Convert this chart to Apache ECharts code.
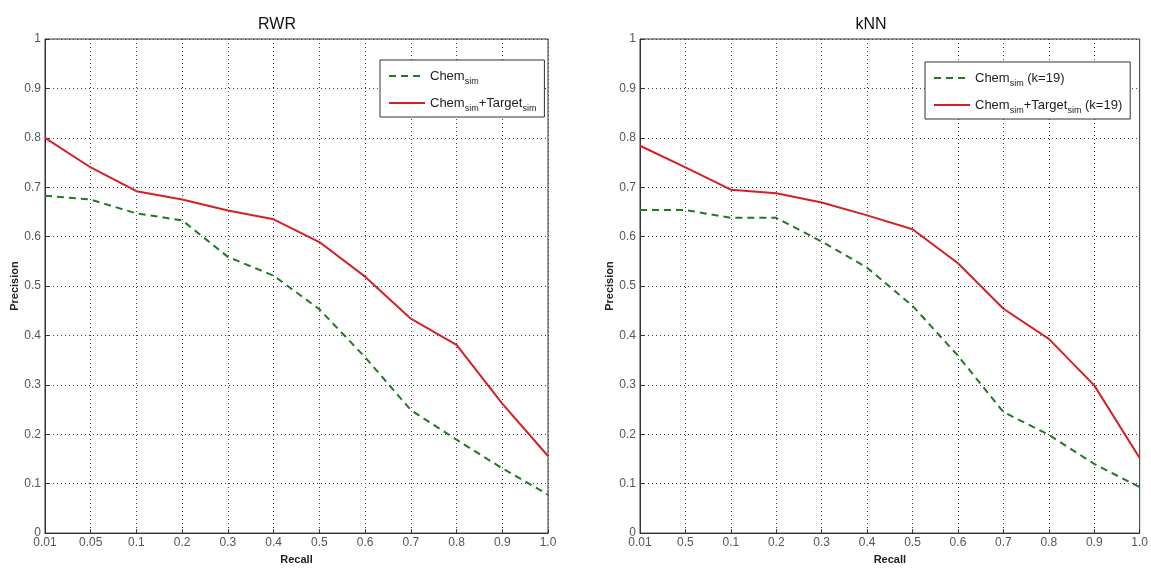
<!DOCTYPE html>
<html lang="en">
<head>
    <meta charset="UTF-8">
    <title>RWR / kNN precision-recall</title>
    <script src="https://cdn.jsdelivr.net/npm/echarts@6/dist/echarts.min.js"></script>
    <style>
        body { margin: 0; background: #fff; }
    </style>
</head>
<body>
    <div id="main" style="width: 1151px;height:570px;"></div>
    <script type="text/javascript">
        // recall categories (kNN panel really prints "0.5" as 2nd label)
        var recallRWR = ['0.01', '0.05', '0.1', '0.2', '0.3', '0.4', '0.5', '0.6', '0.7', '0.8', '0.9', '1.0'];
        var recallKNN = ['0.01', '0.5', '0.1', '0.2', '0.3', '0.4', '0.5', '0.6', '0.7', '0.8', '0.9', '1.0'];

        // precision values
        var rwrChem = [0.683, 0.675, 0.647, 0.633, 0.559, 0.521, 0.453, 0.356, 0.249, 0.189, 0.131, 0.078];
        var rwrChemTarget = [0.800, 0.740, 0.692, 0.675, 0.653, 0.635, 0.589, 0.519, 0.434, 0.381, 0.262, 0.156];
        var knnChem = [0.654, 0.654, 0.638, 0.638, 0.590, 0.537, 0.460, 0.359, 0.245, 0.199, 0.140, 0.093];
        var knnChemTarget = [0.784, 0.740, 0.695, 0.688, 0.669, 0.643, 0.615, 0.546, 0.454, 0.393, 0.299, 0.152];

        var green = '#1f7a22';
        var red = '#d42027';
        var font = 'Liberation Sans';

        var myChart = echarts.init(document.getElementById('main'));

        // turn "Chem_sim+Target_sim (k=19)" into rich text with subscripts
        function legendLabel(name) {
            return name.replace(/_sim/g, '{s|sim}')
                .split(/(\{s\|sim\})/)
                .map(function (p) { return p === '{s|sim}' || p === '' ? p : '{n|' + p + '}'; })
                .join('');
        }

        var legendText = {
            fontFamily: font,
            rich: {
                n: { fontSize: 13, fontFamily: font, color: '#222', lineHeight: 16 },
                s: { fontSize: 9, fontFamily: font, color: '#222', padding: [11, 0, 0, 0], lineHeight: 16 }
            }
        };

        function xAxis(idx, cats) {
            return {
                type: 'category', gridIndex: idx, data: cats, boundaryGap: false,
                name: 'Recall', nameLocation: 'middle', nameGap: 19,
                nameTextStyle: { fontFamily: font, fontWeight: 'bold', fontSize: 11, color: '#222' },
                axisLine: { lineStyle: { color: '#333', width: 1 } },
                axisTick: { inside: true, length: 4, lineStyle: { color: '#333' } },
                axisLabel: { fontFamily: font, fontSize: 12, color: '#555', margin: 4 },
                splitLine: { show: true, lineStyle: { type: [1, 3], color: '#444', width: 1 } }
            };
        }

        function yAxis(idx, gap) {
            return {
                type: 'value', gridIndex: idx, min: 0, max: 1, interval: 0.1,
                name: 'Precision', nameLocation: 'middle', nameGap: gap,
                nameTextStyle: { fontFamily: font, fontWeight: 'bold', fontSize: 11, color: '#222' },
                axisLine: { show: true, lineStyle: { color: '#333', width: 1 } },
                axisTick: { show: true, inside: true, length: 4, lineStyle: { color: '#333' } },
                axisLabel: { fontFamily: font, fontSize: 12, color: '#555', margin: 4 },
                splitLine: { show: true, lineStyle: { type: [1, 3], color: '#444', width: 1 } }
            };
        }

        function line(name, idx, data, color, dashed) {
            return {
                name: name, type: 'line', xAxisIndex: idx, yAxisIndex: idx,
                data: data, symbol: 'none', smooth: false,
                lineStyle: { color: color, width: 2, type: dashed ? [7, 5] : 'solid' },
                itemStyle: { color: color }
            };
        }

        function legend(names, left, top) {
            return {
                data: names, orient: 'vertical', left: left, top: top,
                itemWidth: 36, itemHeight: 12, itemGap: 7,
                padding: [6, 8, 4, 8], borderColor: '#333', borderWidth: 1, backgroundColor: '#fff',
                itemStyle: { opacity: 0 },
                formatter: legendLabel, textStyle: legendText
            };
        }

        var option = {
            animation: false,
            title: [
                { text: 'RWR', left: 272, top: 12, textAlign: 'center',
                  textStyle: { fontFamily: font, fontSize: 16, fontWeight: 'normal', color: '#111' } },
                { text: 'kNN', left: 866, top: 12, textAlign: 'center',
                  textStyle: { fontFamily: font, fontSize: 16, fontWeight: 'normal', color: '#111' } }
            ],
            legend: [
                legend(['Chem_sim', 'Chem_sim+Target_sim'], 380, 60),
                legend(['Chem_sim (k=19)', 'Chem_sim+Target_sim (k=19)'], 925, 62)
            ],
            grid: [
                { left: 45, top: 39, width: 503, height: 499, show: true, borderColor: '#333', borderWidth: 1 },
                { left: 640, top: 39, width: 506, height: 499, show: true, borderColor: '#333', borderWidth: 1 }
            ],
            xAxis: [xAxis(0, recallRWR), xAxis(1, recallKNN)],
            yAxis: [yAxis(0, 23), yAxis(1, 25)],
            series: [
                line('Chem_sim', 0, rwrChem, green, true),
                line('Chem_sim+Target_sim', 0, rwrChemTarget, red, false),
                line('Chem_sim (k=19)', 1, knnChem, green, true),
                line('Chem_sim+Target_sim (k=19)', 1, knnChemTarget, red, false)
            ]
        };

        myChart.setOption(option);
    </script>
</body>
</html>
